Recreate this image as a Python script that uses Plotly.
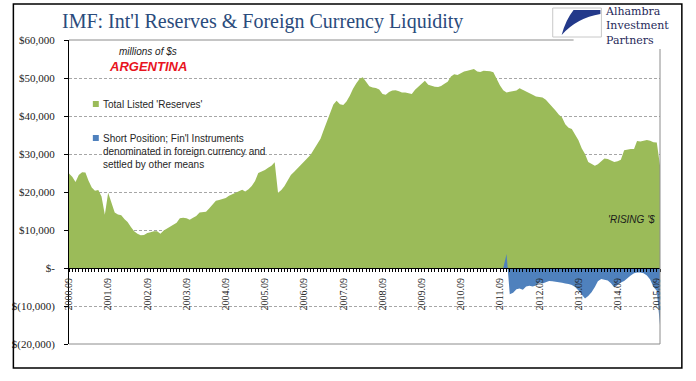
import pandas as pd
import plotly.graph_objects as go

# ---- data (millions of US$) ----
months = pd.date_range("2000-09-01", periods=182, freq="MS")

total_reserves = [
    24900, 24000, 22600, 24500, 25200, 25100, 23000, 21200, 20300, 20500,
    18800, 14000, 19800, 17000, 14600, 14100, 13900, 12800, 12100, 10800,
    9700, 9000, 8600, 8700, 9200, 9400, 9700, 9700, 9000, 9900,
    10400, 10800, 11300, 11900, 13100, 13200, 13100, 12700, 13200, 13700,
    14600, 14700, 14800, 15700, 16800, 17700, 17900, 18100, 18400, 19000,
    19400, 19900, 20300, 20600, 20100, 20700, 21600, 22900, 25000, 25300,
    25800, 26400, 26900, 27800, 19800, 20500, 21500, 23000, 24500, 25300,
    26200, 27000, 27800, 28700, 29800, 31200, 32500, 34000, 36200, 38500,
    41000, 43000, 44000, 43100, 42900, 43800, 45300, 47200, 48600, 49800,
    50200, 49000, 47800, 47500, 47400, 47000, 45800, 45600, 46300, 46700,
    46800, 46500, 46200, 46200, 46000, 45800, 46900, 47800, 48600, 49300,
    48200, 47900, 47700, 47600, 47900, 48500, 49000, 50400, 51000, 50800,
    51300, 51700, 51900, 52100, 52400, 51700, 51600, 51900, 51800, 51800,
    51500, 49700, 48000, 46800, 46200, 46400, 46500, 46700, 47300, 46900,
    46500, 46200, 45600, 45100, 45000, 44900, 44300, 43400, 42400, 41400,
    40400, 39600, 37800, 36900, 36600, 35200, 33600, 31500, 30000, 27900,
    27400, 26900, 27300, 28100, 28800, 28700, 28400, 27900, 28100, 28500,
    31000, 31200, 31300, 31300, 33400, 33300, 33500, 33700, 33500, 33100,
    33000, 27000,
]

short_months = months[133:]
short_position = [
    0, 3700, -6900, -6500, -5600, -5400, -5700, -4900, -4700, -4900,
    -4600, -3800, -4100, -3800, -3400, -3500, -3600, -3800, -3900, -4100,
    -4200, -4500, -5000, -5900, -6800, -8000, -7400, -6400, -5000, -3500,
    -2900, -3100, -3300, -4000, -5100, -4500, -3800, -3400, -2600, -2000,
    -1400, -1200, -1200, -1400, -2000, -3000, -5000, -6000, -15000,
]

y_tickvals = [60000, 50000, 40000, 30000, 20000, 10000, 0, -10000, -20000]
y_ticktext = ["$60,000", "$50,000", "$40,000", "$30,000", "$20,000",
              "$10,000", "$-", "$(10,000)", "$(20,000)"]

GREEN = "#9BBB59"
BLUE = "#4F81BD"

# ---- layout geometry (pixels) ----
FW, FH = 696, 381
L, R, T, B = 65, 660, 40, 344  # plot area


def px(x):
    return (x - L) / (R - L)


def py(y):
    return (B - y) / (B - T)


fig = go.Figure()
fig.add_trace(go.Scatter(x=months, y=total_reserves, mode="lines",
                         line=dict(width=0, color=GREEN), fill="tozeroy",
                         fillcolor=GREEN, name="Total Listed 'Reserves'",
                         showlegend=False, hoverinfo="skip"))
fig.add_trace(go.Scatter(x=short_months, y=short_position, mode="lines",
                         line=dict(width=0, color=BLUE), fill="tozeroy",
                         fillcolor=BLUE, name="Short Position",
                         showlegend=False, hoverinfo="skip"))

serif = "Liberation Serif"
sans = "Liberation Sans"

shapes = []
# plot frame: top, right, bottom (gray)
shapes.append(dict(type="path", xref="paper", yref="paper", layer="above",
                   path="M 0,1 L 1,1 L 1,0 L 0,0",
                   line=dict(color="#8C8C8C", width=1)))
# outer black border
shapes.append(dict(type="rect", xref="paper", yref="paper", layer="above",
                   x0=px(9), x1=px(682), y0=py(368), y1=py(4),
                   line=dict(color="black", width=1.5)))
# logo white background
shapes.append(dict(type="rect", xref="paper", yref="paper", layer="above",
                   x0=px(573), x1=px(680), y0=py(49), y1=py(6),
                   fillcolor="white", line=dict(width=0)))
# logo box
shapes.append(dict(type="rect", xref="paper", yref="paper", layer="above",
                   x0=px(552), x1=px(601), y0=py(37), y1=py(8),
                   fillcolor="white", line=dict(color="#C8C8C8", width=1)))


def P(x, y):
    return f"{px(x):.5f},{py(y):.5f}"


swoosh = (f"M {P(573, 10)} L {P(600, 10)} L {P(600, 14)} "
          f"Q {P(576, 18)} {P(561, 35)} Q {P(565, 20)} {P(573, 10)} Z")
shapes.append(dict(type="path", xref="paper", yref="paper", layer="above",
                   path=swoosh, fillcolor="#23398A", line=dict(width=0)))
# legend squares
shapes.append(dict(type="rect", xref="paper", yref="paper", layer="above",
                   x0=px(89), x1=px(95), y0=py(107), y1=py(101),
                   fillcolor=GREEN, line=dict(width=0)))
shapes.append(dict(type="rect", xref="paper", yref="paper", layer="above",
                   x0=px(89), x1=px(95), y0=py(141), y1=py(135),
                   fillcolor=BLUE, line=dict(width=0)))

annotations = [
    dict(text="IMF: Int'l Reserves & Foreign Currency Liquidity",
         x=px(56), y=py(21), xanchor="left", yanchor="middle",
         font=dict(family=serif, size=20, color="#2A4B7C")),
    dict(text="<i>millions of $s</i>", x=px(145), y=py(51),
         xanchor="center", yanchor="middle",
         font=dict(family=sans, size=10, color="#222222")),
    dict(text="<b><i>ARGENTINA</i></b>", x=px(145), y=py(66),
         xanchor="center", yanchor="middle",
         font=dict(family=sans, size=13, color="#E8141E")),
    dict(text="Total Listed 'Reserves'", x=px(97), y=py(104),
         xanchor="left", yanchor="middle",
         font=dict(family=sans, size=10, color="#262626")),
    dict(text="Short Position; Fin'l Instruments<br>denominated in foreign currency and<br>settled by other means",
         x=px(97), y=py(130.5), xanchor="left", yanchor="top", align="left",
         font=dict(family=sans, size=10, color="#262626")),
    dict(text="<i>'RISING '$</i>", x=px(657), y=py(219),
         xanchor="right", yanchor="middle",
         font=dict(family=sans, size=10, color="#1A1A1A")),
    dict(text="Alhambra<br>Investment<br>Partners", x=px(604), y=py(26),
         xanchor="left", yanchor="middle", align="left", borderpad=0,
         font=dict(family="DejaVu Serif", size=11, color="#1F2A5A")),
]
for a in annotations:
    a.update(xref="paper", yref="paper", showarrow=False)

fig.update_layout(
    width=FW, height=FH,
    margin=dict(l=L, r=FW - R, t=T, b=FH - B, pad=0),
    paper_bgcolor="white", plot_bgcolor="white",
    showlegend=False, hovermode=False,
    shapes=shapes, annotations=annotations,
    xaxis=dict(
        type="date",
        range=[months[0], months[-1]],
        anchor="free", position=0.25,
        showline=True, linecolor="black", linewidth=1,
        showgrid=False, zeroline=False,
        ticks="outside", ticklen=3, tickcolor="black", tickwidth=1,
        tick0="2000-09-01", dtick="M12", tickformat="%Y.%m",
        tickangle=-90, ticklabelstandoff=2,
        tickfont=dict(family=serif, size=10, color="#222222"),
        minor=dict(ticks="outside", dtick="M1", ticklen=3,
                   tickcolor="black", tickwidth=1, showgrid=False),
    ),
    yaxis=dict(
        range=[-20000, 60000],
        tickvals=y_tickvals, ticktext=y_ticktext,
        showline=True, linecolor="black", linewidth=1,
        ticks="outside", ticklen=4, tickcolor="black",
        ticklabelstandoff=7,
        showgrid=True, gridcolor="#A6A6A6", gridwidth=1, griddash="3px,2px",
        zeroline=False,
        tickfont=dict(family=serif, size=11, color="#222222"),
    ),
)

# remove the page's default 8px body margin so the figure sits at (0, 0)
fig.write_html("out.html", config={"displayModeBar": False},
               post_script="document.body.style.margin='0';")
